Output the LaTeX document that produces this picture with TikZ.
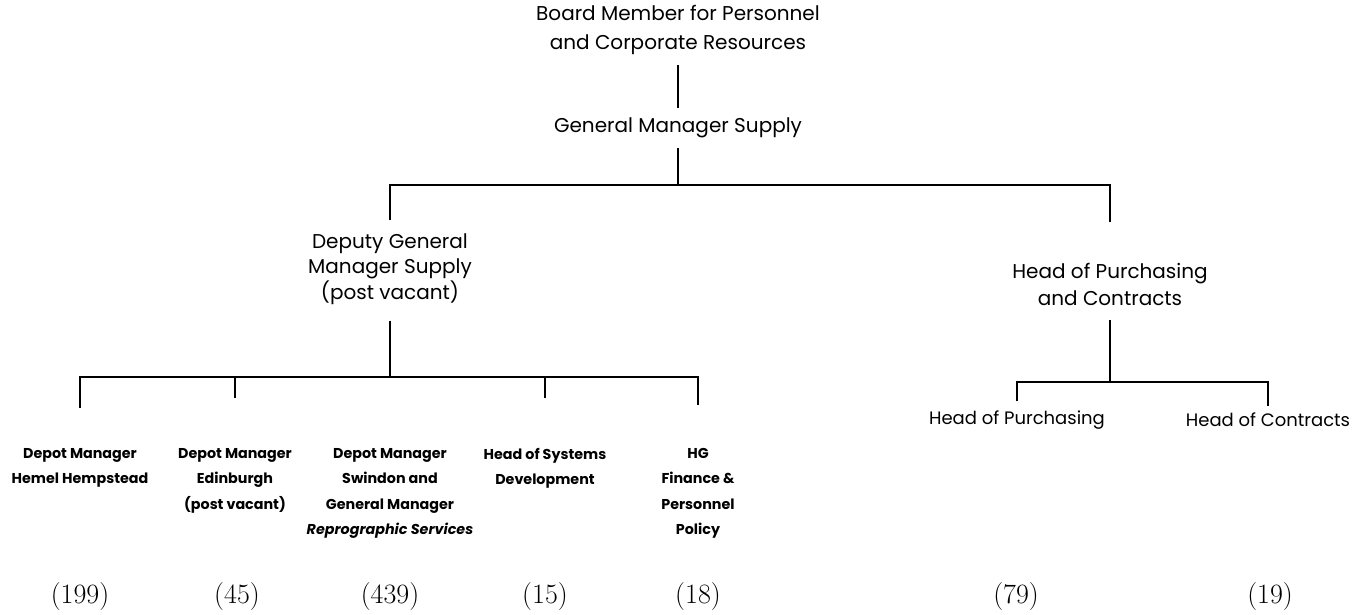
\documentclass[tikz,border=0pt]{standalone}
\usepackage{fontspec}
\newfontfamily\lab{Poppins}
\begin{document}
\begin{tikzpicture}[x=1pt,y=-1pt,
  line/.style={line width=2.8pt},
  big/.style={inner sep=0pt,align=center,font=\lab\fontsize{20}{29}\selectfont},
  mid/.style={inner sep=0pt,align=center,font=\lab\fontsize{18}{26}\selectfont},
  small/.style={inner sep=0pt,align=center,anchor=north,font=\lab\bfseries\fontsize{14.3}{25.5}\selectfont},
  num/.style={inner sep=0pt,font=\fontsize{28}{30}\selectfont}]
\useasboundingbox (0,0) rectangle (1370,615);
% top
\node[big] (board) at (678,30) {Board Member for Personnel\\and Corporate Resources};
\node[big] (gms) at (678,128) {General Manager Supply};
\node[big,font=\lab\fontsize{20}{25.5}\selectfont] (dgm) at (390,269) {Deputy General\\Manager Supply\\(post vacant)};
\node[big,font=\lab\fontsize{20}{27}\selectfont] (hpc) at (1110,284) {Head of Purchasing\\and Contracts};
% small labels
\node[small] (hh) at (80,448) {Depot Manager\\Hemel Hempstead};
\node[small] (ed) at (235,448) {Depot Manager\\Edinburgh\\(post vacant)};
\node[small] (sw) at (390,448) {Depot Manager\\Swindon and\\General Manager\\\itshape Reprographic Services};
\node[small] (sd) at (545,448) {Head of Systems\\Development};
\node[small] (hg) at (698,448) {HG\\Finance \&\\Personnel\\Policy};
\node[mid] (hp) at (1017,420) {Head of Purchasing};
\node[mid] (hc) at (1268,420) {Head of Contracts};
% numbers
\node[num] (n1) at (80,597) {(199)};
\node[num] (n2) at (237,597) {(45)};
\node[num] (n3) at (390,597) {(439)};
\node[num] (n4) at (545,597) {(15)};
\node[num] (n5) at (698,597) {(18)};
\node[num] (n6) at (1016,597) {(79)};
\node[num] (n7) at (1270,597) {(19)};
% junctions
\coordinate (j1) at (678,185);
\coordinate (d1) at (390,220);
\coordinate (d2) at (1110,222);
\coordinate (j2) at (390,377);
\coordinate (j3) at (1110,382);
% connectors
\draw[line] ([yshift=-10pt]board.south) -- ([yshift=10pt]gms.north);
\draw[line] ([yshift=-10pt]gms.south) -- (j1);
\draw[line] (d1) |- (j1) -| (d2);
\draw[line] ([yshift=-16pt]dgm.south) -- (j2);
\draw[line] ([yshift=-15pt]hpc.south) -- (j3);
\draw[line] ([yshift=40pt]hh.north) |- (j2) -| ([yshift=43pt]hg.north);
\draw[line] (j2) -| ([yshift=50pt]ed.north);
\draw[line] (j2) -| ([yshift=50pt]sd.north);
\draw[line] ([yshift=9pt]hp.north) |- (j3) -| ([yshift=7pt]hc.north);
\end{tikzpicture}
\end{document}
